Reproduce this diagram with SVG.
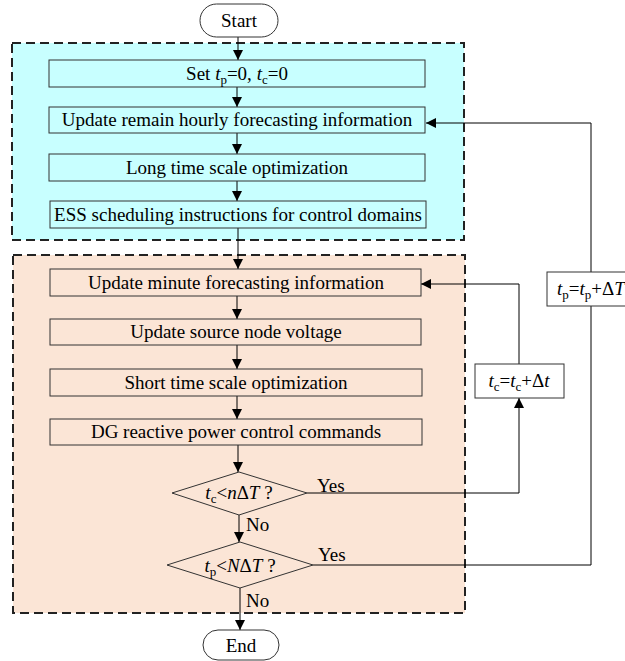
<svg xmlns="http://www.w3.org/2000/svg" width="625" height="661" viewBox="0 0 625 661" font-family="'Liberation Serif', 'Times New Roman', serif">
  <defs>
    <marker id="arr" viewBox="0 0 10 10" refX="10" refY="5" markerWidth="10" markerHeight="10" markerUnits="userSpaceOnUse" orient="auto">
      <path d="M0,0 L10,5 L0,10 z" fill="#000"/>
    </marker>
    <style>
      text { font-family: "Liberation Serif", "Times New Roman", serif; font-size: 19px; fill: #000; }
      .c { text-anchor: middle; }
      .i { font-style: italic; }
      .s { font-size: 13px; }
      .box { fill: none; stroke: #333; stroke-width: 1; }
      .wbox { fill: #fff; stroke: #333; stroke-width: 1; }
      .zone { stroke: #222; stroke-width: 2; stroke-dasharray: 9 5; }
      .ln { fill: none; stroke: #000; stroke-width: 1; }
    </style>
  </defs>

  <rect width="625" height="661" fill="#fff"/>

  <!-- planning zones -->
  <rect id="zone-long" class="zone" x="12" y="43" width="452" height="197" fill="#C8FFFF"/>
  <rect id="zone-short" class="zone" x="13" y="255" width="452" height="358" fill="#FBE5D6"/>

  <!-- connectors -->
  <g id="connectors">
    <line class="ln" x1="238" y1="37" x2="238" y2="60" marker-end="url(#arr)"/>
    <line class="ln" x1="237" y1="87" x2="237" y2="107" marker-end="url(#arr)"/>
    <line class="ln" x1="237" y1="133" x2="237" y2="154" marker-end="url(#arr)"/>
    <line class="ln" x1="237" y1="181" x2="237" y2="201" marker-end="url(#arr)"/>
    <line class="ln" x1="238" y1="228" x2="238" y2="269" marker-end="url(#arr)"/>
    <line class="ln" x1="237" y1="296" x2="237" y2="319" marker-end="url(#arr)"/>
    <line class="ln" x1="237" y1="345" x2="237" y2="369" marker-end="url(#arr)"/>
    <line class="ln" x1="237" y1="396" x2="237" y2="419" marker-end="url(#arr)"/>
    <line class="ln" x1="238" y1="445" x2="238" y2="472" marker-end="url(#arr)"/>
    <line class="ln" x1="239" y1="515" x2="239" y2="542" marker-end="url(#arr)"/>
    <line class="ln" x1="240" y1="588" x2="240" y2="630" marker-end="url(#arr)"/>
    <!-- inner loop: tc = tc + dt -->
    <polyline class="ln" points="307,493 519,493 519,398" marker-end="url(#arr)"/>
    <polyline class="ln" points="519,364 519,284 421,284" marker-end="url(#arr)"/>
    <!-- outer loop: tp = tp + dT -->
    <polyline class="ln" points="313,565 591,565 591,123 426,123" marker-end="url(#arr)"/>
  </g>

  <!-- terminals -->
  <g id="start">
    <rect class="wbox" x="200" y="4" width="78" height="33" rx="16.5"/>
    <text class="c" x="239" y="27">Start</text>
  </g>
  <g id="end">
    <rect class="wbox" x="203" y="630" width="76" height="30" rx="15"/>
    <text class="c" x="241" y="652">End</text>
  </g>

  <!-- long time scale steps -->
  <g id="set-init">
    <rect class="box" x="49" y="60" width="376" height="27"/>
    <text class="c" x="237" y="80">Set <tspan class="i">t</tspan><tspan class="s" dy="4">p</tspan><tspan dy="-4">=0, </tspan><tspan class="i">t</tspan><tspan class="s" dy="4">c</tspan><tspan dy="-4">=0</tspan></text>
  </g>
  <g id="update-hourly">
    <rect class="box" x="49" y="107" width="376" height="26"/>
    <text class="c" x="237" y="126">Update remain hourly forecasting information</text>
  </g>
  <g id="long-opt">
    <rect class="box" x="49" y="154" width="376" height="27"/>
    <text class="c" x="237" y="174">Long time scale optimization</text>
  </g>
  <g id="ess-instr">
    <rect class="box" x="50" y="201" width="376" height="27"/>
    <text class="c" x="238" y="221">ESS scheduling instructions for control domains</text>
  </g>

  <!-- short time scale steps -->
  <g id="update-minute">
    <rect class="box" x="50" y="269" width="371" height="27"/>
    <text class="c" x="236" y="289">Update minute forecasting information</text>
  </g>
  <g id="update-voltage">
    <rect class="box" x="50" y="319" width="371" height="26"/>
    <text class="c" x="236" y="338">Update source node voltage</text>
  </g>
  <g id="short-opt">
    <rect class="box" x="50" y="369" width="372" height="27"/>
    <text class="c" x="236" y="389">Short time scale optimization</text>
  </g>
  <g id="dg-cmd">
    <rect class="box" x="50" y="419" width="372" height="26"/>
    <text class="c" x="236" y="438">DG reactive power control commands</text>
  </g>

  <!-- decisions -->
  <g id="check-tc">
    <polygon class="box" points="239,472 307,493 239,515 172,493"/>
    <text class="c" x="239" y="499"><tspan class="i">t</tspan><tspan class="s" dy="4">c</tspan><tspan dy="-4">&lt;</tspan><tspan class="i">n</tspan>Δ<tspan class="i">T</tspan> ?</text>
    <text x="317" y="492">Yes</text>
    <text x="246" y="531">No</text>
  </g>
  <g id="check-tp">
    <polygon class="box" points="240,542 313,565 240,588 167,565"/>
    <text class="c" x="240" y="572"><tspan class="i">t</tspan><tspan class="s" dy="4">p</tspan><tspan dy="-4">&lt;</tspan><tspan class="i">N</tspan>Δ<tspan class="i">T</tspan> ?</text>
    <text x="318" y="561">Yes</text>
    <text x="246" y="607">No</text>
  </g>

  <!-- counter updates -->
  <g id="inc-tc">
    <rect class="wbox" x="475" y="364" width="89" height="34"/>
    <text class="c" x="519" y="387"><tspan class="i">t</tspan><tspan class="s" dy="4">c</tspan><tspan dy="-4">=</tspan><tspan class="i">t</tspan><tspan class="s" dy="4">c</tspan><tspan dy="-4">+Δ</tspan><tspan class="i">t</tspan></text>
  </g>
  <g id="inc-tp">
    <rect class="wbox" x="547" y="272" width="90" height="34"/>
    <text x="557" y="295"><tspan class="i">t</tspan><tspan class="s" dy="4">p</tspan><tspan dy="-4">=</tspan><tspan class="i">t</tspan><tspan class="s" dy="4">p</tspan><tspan dy="-4">+Δ</tspan><tspan class="i">T</tspan></text>
  </g>
</svg>
